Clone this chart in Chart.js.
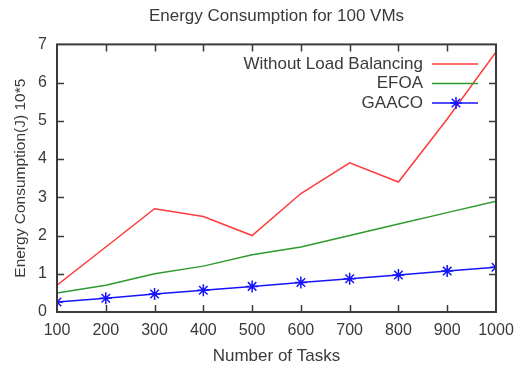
<!DOCTYPE html>
<html>
<head>
<meta charset="utf-8">
<script src="https://cdn.jsdelivr.net/npm/chart.js@4/dist/chart.umd.min.js"></script>
<style>
    html, body { margin: 0; padding: 0; background: #fff; }
    #grafico { display: block; }
</style>
</head>
<body>
<canvas id="grafico" width="515" height="371"></canvas>
<script>
// dados
const TAREFAS = [100, 200, 300, 400, 500, 600, 700, 800, 900, 1000];
const SEM_BALANCEAMENTO = [0.7, 1.7, 2.7, 2.5, 2.0, 3.1, 3.9, 3.4, 5.05, 6.8];
const EFOA = [0.5, 0.7, 1.0, 1.2, 1.5, 1.7, 2.0, 2.3, 2.6, 2.9];
const GAACO = [0.26, 0.36, 0.47, 0.57, 0.67, 0.77, 0.87, 0.97, 1.07, 1.17];
const NOMES = ['Without Load Balancing', 'EFOA', 'GAACO'];
const CORES = ['#ff3b3b', '#2e9a2e', '#1414ff'];

const FONTE = 'Arial, "Liberation Sans", sans-serif';
const COR_TEXTO = '#3a3a3a';
const COR_EIXO = '#3a3a3a';

function pontos(valores) {
    return TAREFAS.map((t, i) => ({ x: t, y: valores[i] }));
}

// moldura com ticks para dentro (estilo gnuplot) + legenda dentro do gráfico
const molduraPlugin = {
    id: 'moldura',
    afterDatasetsDraw(chart) {
        const { ctx, chartArea: a, scales } = chart;
        ctx.save();
        ctx.strokeStyle = COR_EIXO;
        ctx.lineWidth = 1.5;
        const tam = 7;
        ctx.beginPath();
        for (let v = 1; v < 7; v++) {
            const y = Math.round(scales.y.getPixelForValue(v)) + 0.5;
            ctx.moveTo(a.left, y); ctx.lineTo(a.left + tam, y);
            ctx.moveTo(a.right, y); ctx.lineTo(a.right - tam, y);
        }
        for (let v = 200; v < 1000; v += 100) {
            const x = Math.round(scales.x.getPixelForValue(v)) + 0.5;
            ctx.moveTo(x, a.bottom); ctx.lineTo(x, a.bottom - tam);
            ctx.moveTo(x, a.top); ctx.lineTo(x, a.top + tam);
        }
        ctx.stroke();
        ctx.lineWidth = 2;
        ctx.strokeRect(a.left, a.top, a.right - a.left, a.bottom - a.top);

        // legenda
        ctx.font = '17px ' + FONTE;
        ctx.textAlign = 'right';
        ctx.textBaseline = 'middle';
        NOMES.forEach((nome, i) => {
            const y = 64 + i * 19.5;
            ctx.fillStyle = COR_TEXTO;
            ctx.fillText(nome, 423, y);
            ctx.strokeStyle = CORES[i];
            ctx.lineWidth = 1.5;
            ctx.beginPath();
            ctx.moveTo(432, y); ctx.lineTo(478, y);
            ctx.stroke();
        });
        const yg = 64 + 2 * 19.5;
        Chart.helpers.drawPoint(ctx, { pointStyle: 'star', radius: 6, rotation: 0, borderWidth: 1.5 }, 456, yg);
        ctx.restore();
    }
};

new Chart(document.getElementById('grafico'), {
    type: 'line',
    data: {
        datasets: [
            {
                label: NOMES[0],
                data: pontos(SEM_BALANCEAMENTO),
                borderColor: CORES[0],
                borderWidth: 1.5,
                pointRadius: 0,
                tension: 0
            },
            {
                label: NOMES[1],
                data: pontos(EFOA),
                borderColor: CORES[1],
                borderWidth: 1.5,
                pointRadius: 0,
                tension: 0
            },
            {
                label: NOMES[2],
                data: pontos(GAACO),
                borderColor: CORES[2],
                borderWidth: 1.5,
                pointStyle: 'star',
                pointRadius: 6,
                pointBorderColor: CORES[2],
                pointBorderWidth: 1.5,
                tension: 0
            }
        ]
    },
    options: {
        responsive: false,
        animation: false,
        layout: { padding: { top: 0, right: 19, bottom: 0, left: 0 } },
        plugins: {
            legend: { display: false },
            tooltip: { enabled: false },
            title: {
                display: true,
                fullSize: false,
                text: 'Energy Consumption for 100 VMs',
                color: COR_TEXTO,
                font: { family: FONTE, size: 17, weight: 'normal' },
                padding: { top: 6, bottom: 18 }
            }
        },
        scales: {
            x: {
                type: 'linear',
                min: 100,
                max: 1000,
                grid: { display: false, drawTicks: false },
                border: { display: false },
                ticks: {
                    stepSize: 100,
                    padding: 9,
                    color: COR_TEXTO,
                    font: { family: FONTE, size: 16 },
                    maxRotation: 0,
                    callback: v => String(v)
                },
                title: {
                    display: true,
                    text: 'Number of Tasks',
                    color: COR_TEXTO,
                    font: { family: FONTE, size: 17 },
                    padding: { top: 0, bottom: 4 }
                },
                afterFit(scale) {
                    scale.height = 59;
                    scale.paddingLeft = 0;
                    scale.paddingRight = 0;
                }
            },
            y: {
                min: 0,
                max: 7,
                grid: { display: false, drawTicks: false },
                border: { display: false },
                ticks: {
                    stepSize: 1,
                    padding: 10,
                    color: COR_TEXTO,
                    font: { family: FONTE, size: 16 }
                },
                title: {
                    display: true,
                    text: 'Energy Consumption(J) 10*5',
                    color: COR_TEXTO,
                    font: { family: FONTE, size: 15.5 },
                    padding: { top: 11, bottom: 0 }
                },
                afterFit(scale) {
                    scale.width = 57;
                    scale.paddingTop = 0;
                    scale.paddingBottom = 0;
                }
            }
        }
    },
    plugins: [molduraPlugin]
});
</script>
</body>
</html>
